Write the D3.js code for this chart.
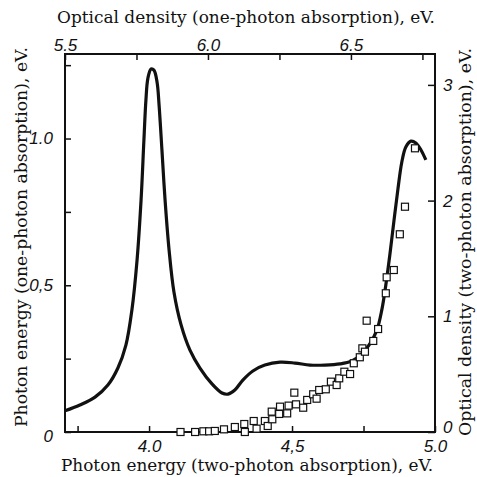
<!DOCTYPE html>
<html>
<head>
<meta charset="utf-8">
<script src="https://cdn.jsdelivr.net/npm/d3@7"></script>
<style>
  html, body { margin: 0; padding: 0; background: #fff; }
  svg { display: block; }
  .title { font-family: "DejaVu Serif", "Liberation Serif", serif; font-size: 16px; fill: #111; }
  .tick text { font-family: "Liberation Sans Narrow", "Liberation Sans", sans-serif; font-style: italic; font-size: 17px; fill: #111; }
</style>
</head>
<body>
<script>
// ---- data ----
// one-photon absorption curve: x in top-axis units (eV), y in left-axis units
const onePhotonX = [5.500, 5.552, 5.605, 5.650, 5.685, 5.713, 5.734, 5.752, 5.766, 5.776, 5.783, 5.790, 5.801, 5.811, 5.822, 5.829, 5.839, 5.850, 5.864, 5.881, 5.906, 5.937, 5.972, 6.014, 6.049, 6.070, 6.094, 6.122, 6.157, 6.199, 6.252, 6.304, 6.357, 6.409, 6.462, 6.503, 6.538, 6.566, 6.591, 6.608, 6.622, 6.636, 6.650, 6.664, 6.678, 6.692, 6.710, 6.727, 6.745, 6.762];
const onePhotonY = [0.072, 0.092, 0.119, 0.160, 0.218, 0.296, 0.416, 0.586, 0.790, 0.995, 1.131, 1.206, 1.237, 1.233, 1.192, 1.114, 0.961, 0.790, 0.620, 0.477, 0.365, 0.279, 0.218, 0.164, 0.133, 0.129, 0.143, 0.177, 0.208, 0.228, 0.238, 0.235, 0.228, 0.228, 0.232, 0.242, 0.266, 0.300, 0.348, 0.416, 0.501, 0.603, 0.716, 0.825, 0.920, 0.971, 0.991, 0.985, 0.961, 0.927];

// two-photon absorption points: x in bottom-axis units (eV), y in right-axis units
const twoPhotonX = [4.110, 4.161, 4.190, 4.210, 4.230, 4.262, 4.300, 4.333, 4.335, 4.366, 4.376, 4.405, 4.415, 4.431, 4.429, 4.458, 4.455, 4.483, 4.488, 4.508, 4.514, 4.539, 4.553, 4.574, 4.586, 4.595, 4.618, 4.636, 4.656, 4.665, 4.683, 4.703, 4.716, 4.737, 4.746, 4.755, 4.784, 4.801, 4.761, 4.828, 4.831, 4.856, 4.877, 4.895, 4.930];
const twoPhotonY = [0.000, 0.000, 0.006, 0.006, 0.009, 0.023, 0.043, 0.069, 0.000, 0.095, 0.029, 0.095, 0.052, 0.110, 0.176, 0.219, 0.156, 0.161, 0.228, 0.340, 0.239, 0.210, 0.277, 0.326, 0.288, 0.363, 0.369, 0.435, 0.406, 0.464, 0.521, 0.501, 0.594, 0.646, 0.723, 0.694, 0.787, 0.890, 0.962, 1.199, 1.337, 1.400, 1.709, 1.947, 2.452];

// ticks
const bottomTicks = [3.75, 4.0, 4.25, 4.5, 4.75, 5.0];
const bottomLabels = ["", "4.0", "", "4,5", "", "5.0"];
const topTicks = [5.5, 5.75, 6.0, 6.25, 6.5, 6.75];
const topLabels = ["5.5", "", "6.0", "", "6.5", ""];
const leftTicks = [0, 0.25, 0.5, 0.75, 1.0, 1.25];
const leftLabels = ["0", "", "0,5", "", "1.0", ""];
const rightTicks = [0, 1, 2, 3];
const rightLabels = ["0", "1", "2", "3"];

const titleTop = "Optical density (one-photon absorption), eV.";
const titleBottom = "Photon energy (two-photon absorption), eV.";
const titleLeft = "Photon energy (one-photon absorption), eV.";
const titleRight = "Optical density (two-photon absorption), eV.";

// ---- layout ----
const W = 477, H = 477;
const L = 65, R = 435, T = 54, B = 432;

const xBot = d3.scaleLinear().domain([3.706, 5.0]).range([L, R]);
const xTop = d3.scaleLinear().domain([5.5, 6.794]).range([L, R]);
const yLeft = d3.scaleLinear().domain([0, 1.288]).range([B, T]);
const yRight = d3.scaleLinear().domain([0, 3.267]).range([B, T]);

const svg = d3.select("body").append("svg").attr("width", W).attr("height", H);

function fmt(ticks, labels) {
  return d => { const i = ticks.indexOf(d); return i >= 0 ? labels[i] : ""; };
}

const gB = svg.append("g").attr("transform", `translate(0,${B})`)
  .call(d3.axisBottom(xBot).tickValues(bottomTicks).tickFormat(fmt(bottomTicks, bottomLabels)).tickSizeInner(-6).tickSizeOuter(0).tickPadding(8));
const gT = svg.append("g").attr("transform", `translate(0,${T})`)
  .call(d3.axisTop(xTop).tickValues(topTicks).tickFormat(fmt(topTicks, topLabels)).tickSizeInner(-6).tickSizeOuter(0).tickPadding(3));
const gL = svg.append("g").attr("transform", `translate(${L},0)`)
  .call(d3.axisLeft(yLeft).tickValues(leftTicks).tickFormat(fmt(leftTicks, leftLabels)).tickSizeInner(-6).tickSizeOuter(0).tickPadding(12));
const gR = svg.append("g").attr("transform", `translate(${R},0)`)
  .call(d3.axisRight(yRight).tickValues(rightTicks).tickFormat(fmt(rightTicks, rightLabels)).tickSizeInner(-7).tickSizeOuter(0).tickPadding(8));

[gB, gT, gL, gR].forEach(g => {
  g.select(".domain").remove();
  g.selectAll(".tick line").attr("stroke", "#111").attr("stroke-width", 1.5);
});
// zero labels sit slightly off the corner, as in the original
gL.selectAll(".tick text").filter(d => d === 0).attr("dy", "0.55em");
gR.selectAll(".tick text").filter(d => d === 0).attr("dy", "0.05em");

// frame
svg.append("rect").attr("x", L).attr("y", T).attr("width", R - L).attr("height", B - T)
  .attr("fill", "none").attr("stroke", "#111").attr("stroke-width", 2);

// curve
const curveData = onePhotonX.map((x, i) => [x, onePhotonY[i]]);
svg.append("path").datum(curveData)
  .attr("fill", "none").attr("stroke", "#111").attr("stroke-width", 3.2).attr("stroke-linejoin", "round")
  .attr("d", d3.line().x(d => xTop(d[0])).y(d => yLeft(d[1])).curve(d3.curveCatmullRom));

// squares
const pts = twoPhotonX.map((x, i) => [x, twoPhotonY[i]]);
const s = 7;
svg.append("g").selectAll("rect").data(pts).join("rect")
  .attr("x", d => xBot(d[0]) - s / 2).attr("y", d => yRight(d[1]) - s / 2)
  .attr("width", s).attr("height", s)
  .attr("fill", "#fff").attr("stroke", "#111").attr("stroke-width", 1.2);

// titles
function title(txt, transform, len) {
  svg.append("text").attr("class", "title").attr("transform", transform)
    .attr("text-anchor", "middle").attr("textLength", len).attr("lengthAdjust", "spacingAndGlyphs").text(txt);
}
title(titleTop, "translate(246,23)", 378);
title(titleBottom, "translate(247,471)", 372);
title(titleLeft, "translate(27,237) rotate(-90)", 380);
title(titleRight, "translate(471,242) rotate(-90)", 388);
</script>
</body>
</html>
